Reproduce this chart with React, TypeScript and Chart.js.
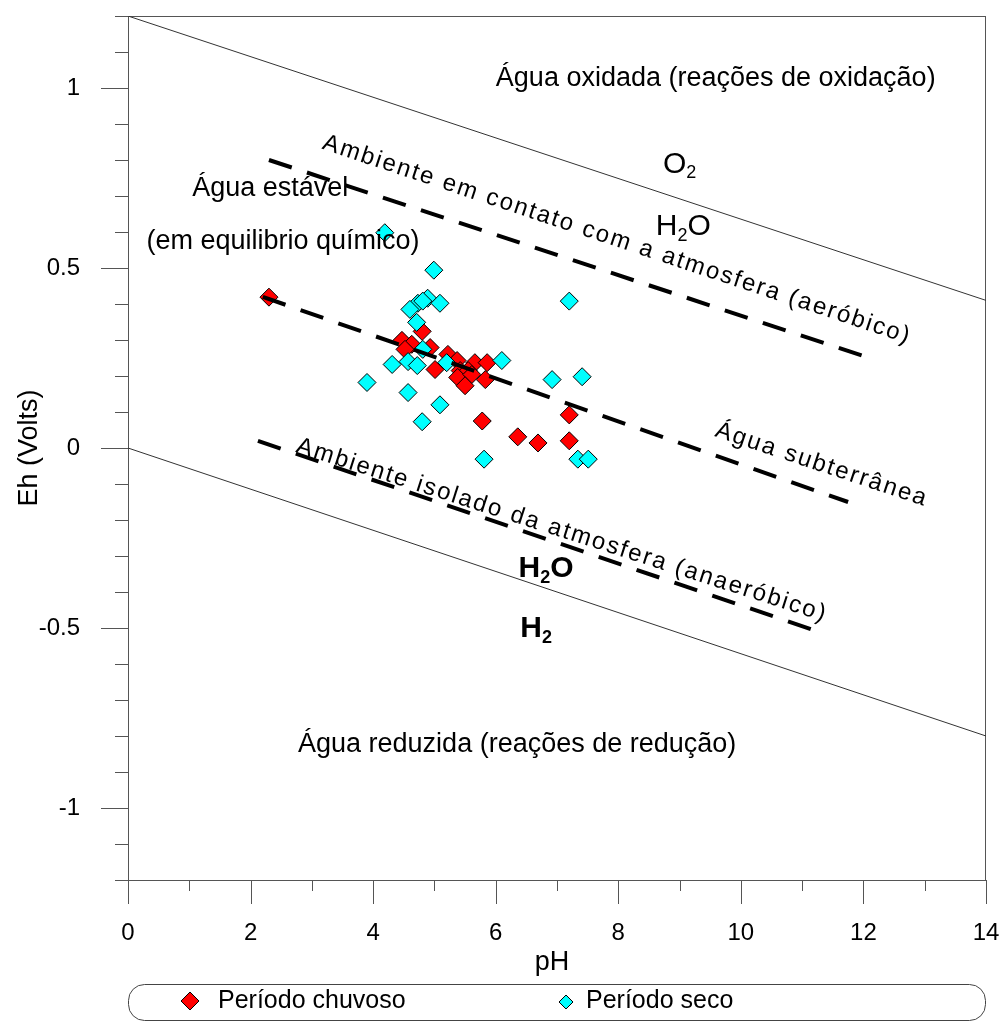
import React, { useEffect, useRef } from "react";
import { Chart, registerables } from "chart.js";

Chart.register(...registerables);

const FONT = "Arial, 'Liberation Sans', Helvetica, sans-serif";

// ---- data ----
const chuvosoPH = [2.30, 4.80, 4.47, 4.63, 4.52, 4.93, 5.22, 5.37, 5.01, 5.66, 5.86, 5.42, 5.55, 5.38, 5.61, 5.83, 5.50, 5.78, 6.36, 6.69, 7.20, 7.20];
const chuvosoEh = [0.419, 0.324, 0.299, 0.288, 0.274, 0.279, 0.260, 0.243, 0.218, 0.237, 0.237, 0.215, 0.215, 0.196, 0.204, 0.190, 0.173, 0.075, 0.031, 0.014, 0.092, 0.020];

const secoPH = [4.19, 4.99, 4.89, 5.09, 4.73, 4.81, 4.60, 4.71, 7.20, 4.81, 4.31, 4.57, 4.72, 5.20, 6.10, 3.90, 4.57, 5.09, 4.80, 6.92, 7.41, 5.81, 7.34, 7.51];
const secoEh = [0.598, 0.494, 0.416, 0.402, 0.402, 0.408, 0.385, 0.349, 0.408, 0.274, 0.232, 0.240, 0.229, 0.237, 0.243, 0.182, 0.154, 0.120, 0.073, 0.190, 0.198, -0.031, -0.031, -0.031];

const o2LinePH = [0, 14];
const o2LineEh = [1.2, 0.41];
const h2LinePH = [0, 14];
const h2LineEh = [0, -0.8];
const aerobicPH = [2.3, 12.1];
const aerobicEh = [0.8, 0.25];
const subterraneaPH = [2.2, 11.75];
const subterraneaEh = [0.42, -0.15];
const anaerobicPH = [2.12, 11.26];
const anaerobicEh = [0.02, -0.51];

const xTickLabels = ["0", "2", "4", "6", "8", "10", "12", "14"];
const yTickLabels = ["-1", "-0.5", "0", "0.5", "1"];

const seriesNames = ["Período chuvoso", "Período seco"];
const xTitle = "pH";
const yTitle = "Eh (Volts)";

// annotations: text, pH, Eh (anchor in data space)
const labelsPlain = [
  { text: "Água oxidada (reações de oxidação)", ph: 9.59, eh: 1.025 },
  { text: "Água estável", ph: 2.32, eh: 0.72 },
  { text: "(em equilibrio químico)", ph: 2.53, eh: 0.573 },
  { text: "Água reduzida (reações de redução)", ph: 6.35, eh: -0.824 },
];
const labelsRotated = [
  { text: "Ambiente em contato com a atmosfera (aeróbico)", ph: 7.98, eh: 0.578, angle: 18.4 },
  { text: "Água subterrânea", ph: 11.32, eh: -0.047, angle: 18.4 },
  { text: "Ambiente isolado da atmosfera (anaeróbico)", ph: 7.08, eh: -0.229, angle: 17.8 },
];
const labelsFormula = [
  { parts: [["O", false], ["2", true]], ph: 9.0, eh: 0.788, bold: false },
  { parts: [["H", false], ["2", true], ["O", false]], ph: 9.06, eh: 0.615, bold: false },
  { parts: [["H", false], ["2", true], ["O", false]], ph: 6.82, eh: -0.335, bold: true },
  { parts: [["H", false], ["2", true]], ph: 6.66, eh: -0.503, bold: true },
];

const toPts = (xs: number[], ys: number[]) => xs.map((x, i) => ({ x, y: ys[i] }));

function setSpacing(ctx: any, s: string) {
  if ("letterSpacing" in ctx) ctx.letterSpacing = s;
}

const framePlugin = {
  id: "frame",
  beforeDatasetsDraw(chart: any) {
    const { ctx, chartArea: a, scales } = chart;
    const x = scales.x, y = scales.y;
    ctx.save();
    ctx.strokeStyle = "#555";
    ctx.lineWidth = 1;
    ctx.strokeRect(a.left + 0.5, a.top + 0.5, a.right - a.left - 1, a.bottom - a.top);
    ctx.beginPath();
    for (let i = -12; i <= 12; i++) {
      const py = Math.round(y.getPixelForValue(i / 10)) + 0.5;
      const len = i % 5 === 0 ? 27 : 13;
      ctx.moveTo(a.left - len, py);
      ctx.lineTo(a.left + 0.5, py);
    }
    for (let i = 0; i <= 14; i++) {
      const px = Math.round(x.getPixelForValue(i)) + 0.5;
      const len = i % 2 === 0 ? 24 : 11;
      ctx.moveTo(px, a.bottom);
      ctx.lineTo(px, a.bottom + len);
    }
    ctx.stroke();
    ctx.restore();
  },
};

const textPlugin = {
  id: "texts",
  afterDatasetsDraw(chart: any) {
    const { ctx, scales } = chart;
    const x = scales.x, y = scales.y;
    ctx.save();
    ctx.fillStyle = "#000";
    ctx.textBaseline = "middle";
    ctx.textAlign = "center";
    ctx.font = `27px ${FONT}`;
    for (const l of labelsPlain) {
      ctx.fillText(l.text, x.getPixelForValue(l.ph), y.getPixelForValue(l.eh));
    }
    for (const l of labelsRotated) {
      ctx.save();
      ctx.translate(x.getPixelForValue(l.ph), y.getPixelForValue(l.eh));
      ctx.rotate((l.angle * Math.PI) / 180);
      setSpacing(ctx, "2px");
      ctx.font = `24px ${FONT}`;
      ctx.fillText(l.text, 0, 0);
      ctx.restore();
    }
    for (const f of labelsFormula) {
      const big = 30, small = 18;
      const w = f.parts.reduce((s: number, p: any) => {
        ctx.font = `${f.bold ? "bold " : ""}${p[1] ? small : big}px ${FONT}`;
        return s + ctx.measureText(p[0]).width;
      }, 0);
      let cx = x.getPixelForValue(f.ph) - w / 2;
      const cy = y.getPixelForValue(f.eh);
      ctx.textAlign = "left";
      for (const p of f.parts as any[]) {
        ctx.font = `${f.bold ? "bold " : ""}${p[1] ? small : big}px ${FONT}`;
        ctx.fillText(p[0], cx, p[1] ? cy + 9 : cy);
        cx += ctx.measureText(p[0]).width;
      }
      ctx.textAlign = "center";
    }
    ctx.restore();
  },
  afterDraw(chart: any) {
    const { ctx, chartArea: a } = chart;
    ctx.save();
    ctx.fillStyle = "#000";
    // axis titles
    ctx.font = `27px ${FONT}`;
    ctx.textAlign = "center";
    ctx.textBaseline = "middle";
    ctx.fillText(xTitle, 552, 963);
    ctx.save();
    ctx.translate(30, (a.top + a.bottom) / 2);
    ctx.rotate(-Math.PI / 2);
    ctx.fillText(yTitle, 0, 0);
    ctx.restore();
    // legend box
    ctx.strokeStyle = "#444";
    ctx.lineWidth = 1;
    ctx.beginPath();
    (ctx as any).roundRect(a.left + 0.5, 984.5, a.right - a.left - 1, 36, 16);
    ctx.stroke();
    const drawDiamond = (cx: number, cy: number, r: number, fill: string) => {
      ctx.beginPath();
      ctx.moveTo(cx, cy - r);
      ctx.lineTo(cx + r, cy);
      ctx.lineTo(cx, cy + r);
      ctx.lineTo(cx - r, cy);
      ctx.closePath();
      ctx.fillStyle = fill;
      ctx.fill();
      ctx.strokeStyle = "#000";
      ctx.stroke();
    };
    drawDiamond(190, 1001, 9, "#FF0000");
    drawDiamond(566, 1002, 7, "#00FFFF");
    ctx.fillStyle = "#000";
    ctx.textAlign = "left";
    ctx.font = `25px ${FONT}`;
    ctx.fillText(seriesNames[0], 218, 1001);
    ctx.fillText(seriesNames[1], 586, 1001);
    ctx.restore();
  },
};

export default function App() {
  const ref = useRef<HTMLCanvasElement | null>(null);
  useEffect(() => {
    document.body.style.margin = "0";
    const canvas = ref.current!;
    const lineDs = (label: string, xs: number[], ys: number[], dashed: boolean) => ({
      label,
      data: toPts(xs, ys),
      showLine: true,
      pointRadius: 0,
      borderColor: dashed ? "#000" : "#333",
      borderWidth: dashed ? 4 : 1,
      borderDash: dashed ? [24, 16] : [],
      fill: false,
      order: 0,
    });
    const chart = new Chart(canvas, {
      type: "scatter",
      data: {
        datasets: [
          lineDs("O2/H2O", o2LinePH, o2LineEh, false),
          lineDs("H2O/H2", h2LinePH, h2LineEh, false),
          lineDs("aeróbico", aerobicPH, aerobicEh, true),
          lineDs("subterrânea", subterraneaPH, subterraneaEh, true),
          lineDs("anaeróbico", anaerobicPH, anaerobicEh, true),
          {
            label: seriesNames[1],
            data: toPts(secoPH, secoEh),
            pointStyle: "rectRot",
            pointRadius: 9,
            backgroundColor: "#00FFFF",
            borderColor: "#000",
            borderWidth: 1,
            order: 1,
          },
          {
            label: seriesNames[0],
            data: toPts(chuvosoPH, chuvosoEh),
            pointStyle: "rectRot",
            pointRadius: 9,
            backgroundColor: "#FF0000",
            borderColor: "#000",
            borderWidth: 1,
            order: 2,
          },
        ] as any,
      },
      options: {
        animation: false,
        responsive: false,
        devicePixelRatio: 1,
        layout: { padding: { left: 0, right: 14, top: 16, bottom: 0 } },
        plugins: { legend: { display: false }, tooltip: { enabled: false } },
        scales: {
          x: {
            type: "linear",
            min: 0,
            max: 14,
            grid: { display: false },
            border: { display: false },
            ticks: {
              stepSize: 1,
              autoSkip: false,
              maxRotation: 0,
              padding: 31,
              color: "#000",
              font: { family: FONT, size: 24 },
              callback: (v: any) => {
                const n = Math.round(Number(v));
                return n % 2 === 0 ? xTickLabels[n / 2] : "";
              },
            },
            afterFit: (s: any) => {
              s.height = 141;
              s.paddingLeft = 0;
              s.paddingRight = 0;
              s.paddingTop = 0;
              s.paddingBottom = 0;
            },
          },
          y: {
            type: "linear",
            min: -1.2,
            max: 1.2,
            grid: { display: false },
            border: { display: false },
            ticks: {
              stepSize: 0.1,
              autoSkip: false,
              padding: 40,
              color: "#000",
              font: { family: FONT, size: 24 },
              callback: (v: any) => {
                const r = Math.round(Number(v) * 10);
                return r % 5 === 0 && Math.abs(r) <= 10 ? yTickLabels[r / 5 + 2] : "";
              },
            },
            afterFit: (s: any) => {
              s.width = 128;
              s.paddingLeft = 0;
              s.paddingRight = 0;
              s.paddingTop = 0;
              s.paddingBottom = 0;
            },
          },
        },
      } as any,
      plugins: [framePlugin, textPlugin],
    });
    return () => chart.destroy();
  }, []);
  return (
    <div style={{ position: "absolute", left: 0, top: 0 }}>
      <canvas ref={ref} width={1000} height={1021} style={{ display: "block" }} />
    </div>
  );
}
